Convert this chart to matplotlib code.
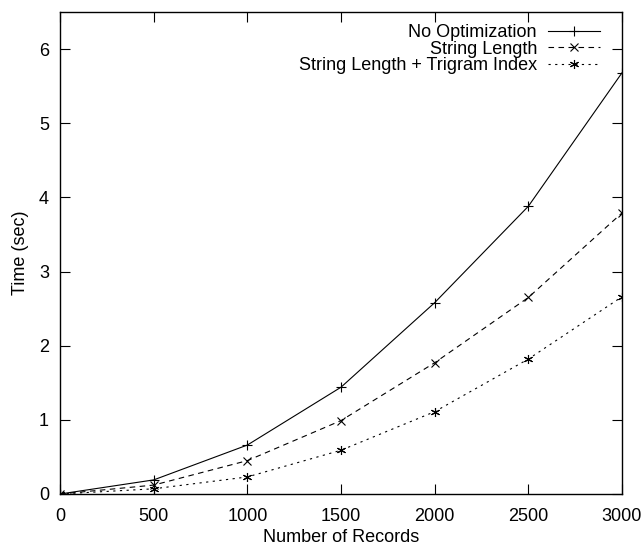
import matplotlib
matplotlib.use("Agg")
import matplotlib.pyplot as plt

plt.rcParams['font.family'] = ['Liberation Sans', 'DejaVu Sans']

# data
records = [0, 500, 1000, 1500, 2000, 2500, 3000]
no_opt = [0.0, 0.19, 0.66, 1.44, 2.58, 3.88, 5.68]
str_len = [0.0, 0.12, 0.45, 0.99, 1.77, 2.65, 3.79]
str_len_trigram = [0.0, 0.07, 0.23, 0.59, 1.11, 1.82, 2.66]

fig = plt.figure(figsize=(6.44, 5.48), dpi=100)
ax = fig.add_axes([60 / 644, 1 - 494 / 548, 562 / 644, 482 / 548])

ax.plot(records, no_opt, color='black', lw=0.8, ls='-', marker='+', ms=6.5, mew=0.8,
        label='No Optimization')
ax.plot(records, str_len, color='black', lw=0.8, ls=(0, (5, 4)), marker='x', ms=5.5, mew=0.8,
        label='String Length')
ax.plot(records, str_len_trigram, color='black', lw=0.8, ls=(0, (2, 4)), marker=(6, 2, 0), ms=6.5, mew=0.8,
        label='String Length + Trigram Index')

ax.set_xlim(0, 3000)
ax.set_ylim(0, 6.5)
ax.set_xticks([0, 500, 1000, 1500, 2000, 2500, 3000])
ax.set_yticks([0, 1, 2, 3, 4, 5, 6])
ax.tick_params(direction='in', length=7, width=0.8, top=True, right=True, labelsize=13)
ax.tick_params(axis='x', pad=10)
ax.tick_params(axis='y', pad=8)
for s in ax.spines.values():
    s.set_linewidth(1.0)

ax.set_xlabel('Number of Records', fontsize=13, labelpad=3)
ax.set_ylabel('Time (sec)', fontsize=13, labelpad=7)

leg = ax.legend(loc='upper right', frameon=False, markerfirst=False, fontsize=13,
                handlelength=2.9, handletextpad=0.6, labelspacing=-0.02,
                borderaxespad=0, bbox_to_anchor=(0.974, 0.99))
for t in leg.get_texts():
    t.set_ha('right')

fig.savefig('out.png', dpi=100)
